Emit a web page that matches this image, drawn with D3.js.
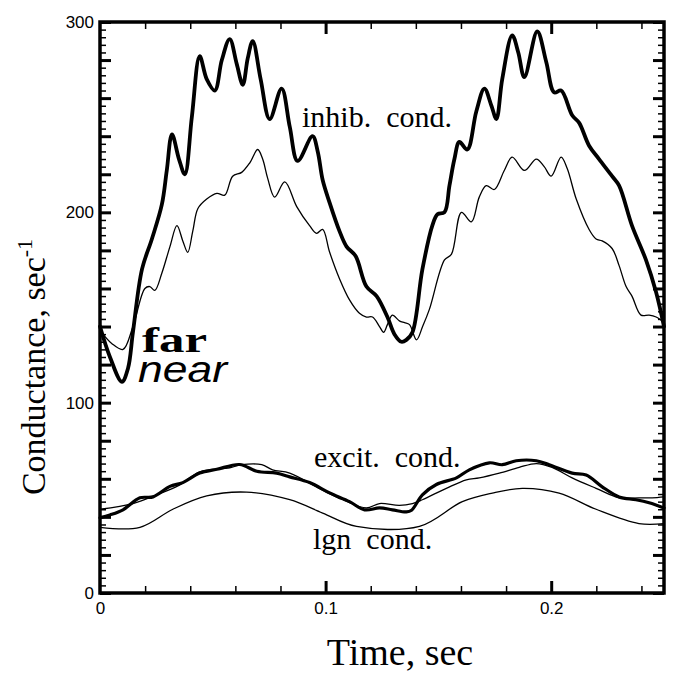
<!DOCTYPE html>
<html><head><meta charset="utf-8">
<script src="https://cdn.jsdelivr.net/npm/d3@7"></script>
<style>body{margin:0;background:#fff} text{white-space:pre}</style>
</head><body>
<svg id="c" width="673" height="679"></svg>
<script>
// ---- data (time in sec, conductance in 1/sec) ----
const inhibFar = [[0,140],[0.0044,124],[0.0097,111],[0.0124,118],[0.0146,137],[0.0186,170],[0.0230,186],[0.0274,204],[0.0296,222],[0.0319,241],[0.0350,228],[0.0376,220],[0.0407,250],[0.0442,282],[0.0473,270],[0.0509,264],[0.0540,280],[0.0575,291],[0.0606,278],[0.0633,267],[0.0655,281],[0.0677,290],[0.0712,270],[0.0752,249],[0.0805,265],[0.0841,245],[0.0876,227],[0.0942,240],[0.0965,232],[0.0987,217],[0.1018,205],[0.1062,190],[0.1093,182],[0.1133,177],[0.1181,161],[0.1226,156],[0.1274,145],[0.1305,136],[0.1336,132],[0.1358,133],[0.1385,137],[0.1429,170],[0.1473,193],[0.1496,199],[0.1527,200],[0.1549,214],[0.1571,228],[0.1593,237],[0.1628,233],[0.1668,253],[0.1704,265],[0.1735,256],[0.1757,249],[0.1783,270],[0.1827,293],[0.1854,284],[0.1881,271],[0.1938,295],[0.1978,279],[0.2013,263],[0.2044,264],[0.2093,251],[0.2124,247],[0.2168,235],[0.2212,228],[0.2270,219],[0.2301,214],[0.2358,193],[0.2420,175],[0.2465,158],[0.25,140]];
const inhibNear = [[0,138],[0.0053,131],[0.0102,128],[0.0146,140],[0.0199,160],[0.0221,161],[0.0243,159],[0.0274,168],[0.0310,182],[0.0341,193],[0.0367,185],[0.0389,179],[0.0411,190],[0.0434,202],[0.0473,207],[0.0518,210],[0.0553,209],[0.0588,219],[0.0628,221],[0.0664,226],[0.0699,233],[0.0721,228],[0.0743,218],[0.0774,208],[0.0819,216],[0.0872,203],[0.0929,193],[0.0960,189],[0.0987,191],[0.1018,179],[0.1062,165],[0.1106,154],[0.1150,147],[0.1181,145],[0.1208,145],[0.1239,140],[0.1257,137],[0.1274,141],[0.1296,146],[0.1327,143],[0.1350,142],[0.1372,141],[0.1403,133],[0.1430,140],[0.1460,149],[0.1527,175],[0.1558,178],[0.1602,200],[0.1646,195],[0.1681,208],[0.1712,214],[0.1748,212],[0.1792,222],[0.1827,229],[0.1881,222],[0.1934,228],[0.1969,224],[0.2000,219],[0.2044,229],[0.2071,223],[0.2111,207],[0.2168,191],[0.2199,186],[0.2226,185],[0.2270,181],[0.2301,172],[0.2332,161],[0.2358,156],[0.2398,146],[0.2434,146],[0.2465,145],[0.25,142]];
const excitFar = [[0,39.5],[0.0044,41],[0.0102,43.7],[0.0177,50],[0.0235,50.5],[0.0310,56],[0.0367,58],[0.0442,63],[0.0518,65],[0.0619,67.5],[0.0695,64],[0.0783,63],[0.0841,61],[0.0929,58],[0.1018,52.6],[0.1106,48],[0.1173,43.7],[0.1239,44.7],[0.1296,43.7],[0.1358,42.6],[0.1381,43.5],[0.1429,51.6],[0.1491,57],[0.1580,60.5],[0.1637,64.7],[0.1726,68.4],[0.1783,67.4],[0.1845,69.5],[0.1934,69.5],[0.1991,67.4],[0.2093,63],[0.2155,62],[0.2226,55.8],[0.2301,50.5],[0.2376,49],[0.2434,47.4],[0.25,44.7]];
const excitNear = [[0,44],[0.0146,47],[0.0252,51.6],[0.0354,56.8],[0.0442,63.7],[0.0575,65.8],[0.0628,67.4],[0.0717,67.4],[0.0765,64.7],[0.0841,63],[0.0987,54],[0.1075,49],[0.1181,44.7],[0.1239,47],[0.1327,46],[0.1385,47],[0.1429,49],[0.1535,55],[0.1624,59.5],[0.1681,60.5],[0.1770,63],[0.1858,66],[0.1934,68],[0.2004,66],[0.2093,60.5],[0.2199,55],[0.2301,50],[0.2389,50],[0.2447,50],[0.25,50.5]];
const lgn = [[0,34.5],[0.0177,34.5],[0.0323,44],[0.0473,51],[0.0650,53],[0.0841,49],[0.0987,42],[0.1137,35],[0.1416,35],[0.1606,48],[0.1739,52.5],[0.1872,55],[0.2035,52.5],[0.2199,44],[0.2389,36.5],[0.25,36.5]];
const xTickLabels = [0, 0.1, 0.2];
const yTickLabels = [0, 100, 200, 300];

// ---- layout ----
const svg = d3.select("#c");
const x0 = 100, x1 = 664, y0 = 593, y1 = 22;
const x = d3.scaleLinear().domain([0, 0.25]).range([x0, x1]);
const y = d3.scaleLinear().domain([0, 300]).range([y0, y1]);

const line = d3.line().x(d => x(d[0])).y(d => y(d[1])).curve(d3.curveCatmullRom.alpha(0.5));

function drawLine(data, w) {
  svg.append("path").datum(data).attr("d", line)
    .attr("fill", "none").attr("stroke", "#000").attr("stroke-width", w)
    .attr("stroke-linejoin", "round").attr("stroke-linecap", "round");
}
drawLine(lgn, 1.3);
drawLine(excitNear, 1.3);
drawLine(excitFar, 3.2);
drawLine(inhibNear, 1.3);
drawLine(inhibFar, 3.8);

// ---- ticks ----
const yMinor = d3.range(0, 301, 4).filter(v => v % 20 !== 0);
const yMajor = d3.range(0, 301, 20);
const xMinor = [0.02,0.04,0.06,0.08,0.12,0.14,0.16,0.18,0.22,0.24];
const xMajor = [0.1, 0.2];

function tickAxis(axisFn, scale, vals, size, pos, w) {
  const g = svg.append("g").attr("transform", pos)
    .call(axisFn(scale).tickValues(vals).tickSize(size).tickFormat(""));
  g.select(".domain").remove();
  g.selectAll("line").attr("stroke-width", w).attr("stroke", "#000");
}
tickAxis(d3.axisRight, y, yMinor, 6, `translate(${x0},0)`, 1.5);
tickAxis(d3.axisRight, y, yMajor, 11, `translate(${x0},0)`, 3);
tickAxis(d3.axisLeft, y, yMinor, 6, `translate(${x1},0)`, 1.5);
tickAxis(d3.axisLeft, y, yMajor, 11, `translate(${x1},0)`, 3);
tickAxis(d3.axisTop, x, xMinor, 7, `translate(0,${y0})`, 1.5);
tickAxis(d3.axisTop, x, xMajor, 12, `translate(0,${y0})`, 3);
tickAxis(d3.axisBottom, x, xMinor, 7, `translate(0,${y1})`, 1.5);
tickAxis(d3.axisBottom, x, xMajor, 12, `translate(0,${y1})`, 3);

// frame
svg.append("rect").attr("x", x0).attr("y", y1).attr("width", x1 - x0).attr("height", y0 - y1)
  .attr("fill", "none").attr("stroke", "#000").attr("stroke-width", 3.5);

// labels
const gy = svg.append("g").attr("transform", `translate(${x0},0)`)
  .call(d3.axisLeft(y).tickValues(yTickLabels).tickSize(0).tickPadding(6).tickFormat(d3.format("d")));
gy.select(".domain").remove();
gy.selectAll("text").attr("font-family", "Liberation Sans, Arial, sans-serif").attr("font-size", 17).attr("fill", "#000");

const gx = svg.append("g").attr("transform", `translate(0,${y0})`)
  .call(d3.axisBottom(x).tickValues(xTickLabels).tickSize(0).tickPadding(9).tickFormat(d => d === 0 ? "0" : d3.format(".1f")(d)));
gx.select(".domain").remove();
gx.selectAll("text").attr("font-family", "Liberation Sans, Arial, sans-serif").attr("font-size", 17).attr("fill", "#000");

const serif = "Liberation Serif, 'Times New Roman', serif";
svg.append("text").attr("x", 400).attr("y", 665).attr("text-anchor", "middle")
  .attr("font-family", serif).attr("font-size", 38).text("Time, sec");

const yt = svg.append("text").attr("transform", "translate(45,367) rotate(-90)").attr("text-anchor", "middle")
  .attr("font-family", serif).attr("font-size", 34);
yt.append("tspan").text("Conductance, sec");
yt.append("tspan").attr("font-size", 22).attr("dy", -13).text("-1");

function label(tx, px, py, size, opts) {
  const t = svg.append("text").attr("x", px).attr("y", py).attr("font-family", opts.family || serif)
    .attr("font-size", size).text(tx);
  if (opts.weight) t.attr("font-weight", opts.weight);
  if (opts.style) t.attr("font-style", opts.style);
  if (opts.len) t.attr("textLength", opts.len).attr("lengthAdjust", "spacingAndGlyphs");
  return t;
}
label("inhib.  cond.", 302, 127, 30, {});
label("excit.  cond.", 314, 467, 30, {});
label("lgn  cond.", 313, 549, 30, {});
label("far", 142, 352, 36, {weight: "bold", len: 65});
label("near", 138, 382, 37, {style: "italic", family: "Liberation Sans, Arial, sans-serif", len: 89});
</script>
</body></html>
